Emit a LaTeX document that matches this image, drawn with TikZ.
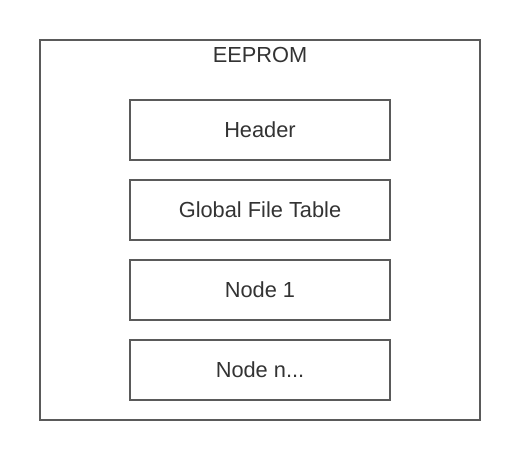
\documentclass[tikz,border=0pt]{standalone}
\usepackage{fontspec}
\setmainfont{Liberation Sans}
\usepackage{xcolor}
\usetikzlibrary{positioning}
\definecolor{frame}{HTML}{5A5A5A}
\definecolor{ink}{HTML}{333333}
\tikzset{
  font=\fontsize{21.8}{26}\selectfont,
  memory/.style={
    draw=frame, line width=2pt, fill=white, text=ink,
    minimum width=440pt, minimum height=380pt, inner sep=0pt, outer sep=0pt
  },
  section/.style={
    draw=frame, line width=2pt, fill=white, text=ink, align=center,
    minimum width=260pt, minimum height=60pt, inner sep=0pt, outer sep=0pt
  },
  title/.style={text=ink, inner sep=0pt}
}

\begin{document}
\begin{tikzpicture}[x=1pt,y=1pt]
  \useasboundingbox (0,0) rectangle (520,-460);

  % outer box
  \node[memory] (eeprom) at (260,-230) {};
  \node[title] (eepromlbl) at (260,-55) {EEPROM};

  % sections
  \node[section] (header) at (260,-130) {Header};
  \node[section, below=20pt of header] (gft) {Global File Table};
  \node[section, below=20pt of gft] (node1) {Node 1};
  \node[section, below=20pt of node1] (noden) {Node n...};
\end{tikzpicture}
\end{document}
